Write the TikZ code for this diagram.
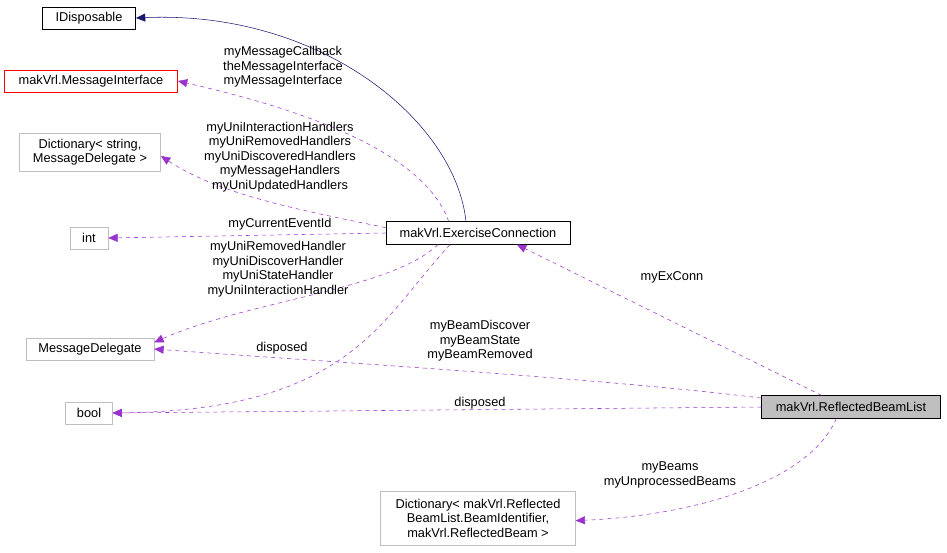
\documentclass[tikz,border=0pt]{standalone}
\usepackage{fontspec}
\setmainfont{Liberation Sans}
\usetikzlibrary{arrows.meta,positioning}
\definecolor{dxpurple}{HTML}{9A32CD}
\definecolor{dxnavy}{HTML}{191970}
\definecolor{dxgray}{HTML}{BFBFBF}
\tikzset{%
	box/.style      = {draw=black, rectangle, inner sep=1pt, text centered, font=\fontsize{9.6}{10.9}\selectfont},
	extbox/.style   = {box, draw=dxgray},
	redbox/.style   = {box, draw=red},
	curbox/.style   = {box, fill=dxgray},
	uses/.style     = {draw=dxpurple, dashed, -{Triangle[length=7pt,width=6pt]}},
	inherit/.style  = {draw=dxnavy, -{Triangle[length=7pt,width=6pt]}},
	lbl/.style      = {font=\fontsize{9.6}{10.9}\selectfont, align=center, inner sep=0pt},
}
\begin{document}
\begin{tikzpicture}[x=0.75pt,y=-0.75pt]
	\useasboundingbox (0,0) rectangle (947,553);
	
	% classes
	\node[box, minimum width=70pt, minimum height=16.5pt] (idisp) at (89,18) {IDisposable};
	\node[redbox, minimum width=130pt, minimum height=16.5pt] (msgif) at (91,81) {makVrl.MessageInterface};
	\node[extbox, minimum width=106pt, minimum height=28.5pt, align=center] (dictstr) at (90,152) {Dictionary< string,\\ MessageDelegate >};
	\node[extbox, minimum width=28.5pt, minimum height=16.5pt] (int) at (89,238) {int};
	\node[extbox, minimum width=96pt, minimum height=16.5pt] (msgdel) at (90,349) {MessageDelegate};
	\node[extbox, minimum width=35pt, minimum height=16.5pt] (bool) at (89,413) {bool};
	\node[extbox, minimum width=146pt, minimum height=40.5pt, align=center] (dictbeam) at (478,518) {Dictionary< makVrl.Reflected\\BeamList.BeamIdentifier,\\ makVrl.ReflectedBeam >};
	\node[box, minimum width=138pt, minimum height=17pt] (exconn) at (478,233) {makVrl.ExerciseConnection};
	\node[curbox, minimum width=134pt, minimum height=17pt] (beamlist) at (851,407) {makVrl.ReflectedBeamList};
	
	% ExerciseConnection
	\draw[inherit] ([xshift=-9pt]exconn.north) .. controls (455,120) and (320,10) .. (idisp.east);
	\draw[uses] ([xshift=-22pt]exconn.north) .. controls (420,140) and (260,100) .. (msgif.east);
	\node[lbl] at (283,67) {myMessageCallback\\theMessageInterface\\myMessageInterface};
	\draw[uses] ([yshift=4pt]exconn.west) .. controls (300,210) and (220,195) .. ([yshift=-3pt]dictstr.east);
	\node[lbl] at (280,157) {myUniInteractionHandlers\\myUniRemovedHandlers\\myUniDiscoveredHandlers\\myMessageHandlers\\myUniUpdatedHandlers};
	\draw[uses] (exconn.west) -- (int.east);
	\node[lbl] at (280,224) {myCurrentEventId};
	\draw[uses] ([xshift=-30pt]exconn.south) .. controls (390,290) and (250,300) .. ([yshift=5pt]msgdel.east);
	\node[lbl] at (278,269) {myUniRemovedHandler\\myUniDiscoverHandler\\myUniStateHandler\\myUniInteractionHandler};
	\draw[uses] ([xshift=-21pt]exconn.south) .. controls (380,320) and (350,410) .. (bool.east);
	\node[lbl] at (282,348) {disposed};
	
	% ReflectedBeamList
	\draw[uses] ([yshift=-2pt]beamlist.north west) .. controls (600,378) and (300,360) .. (msgdel.east);
	\node[lbl] at (480,341) {myBeamDiscover\\myBeamState\\myBeamRemoved};
	\draw[uses] (beamlist.west) -- (bool.east);
	\node[lbl] at (480,403) {disposed};
	\draw[uses] ([xshift=-22pt]beamlist.north) -- ([xshift=-40pt]exconn.south east);
	\node[lbl] at (672,277) {myExConn};
	\draw[uses] ([xshift=-11pt]beamlist.south) .. controls (810,480) and (700,515) .. ([yshift=-2pt]dictbeam.east);
	\node[lbl] at (670,475) {myBeams\\myUnprocessedBeams};
\end{tikzpicture}
\end{document}
